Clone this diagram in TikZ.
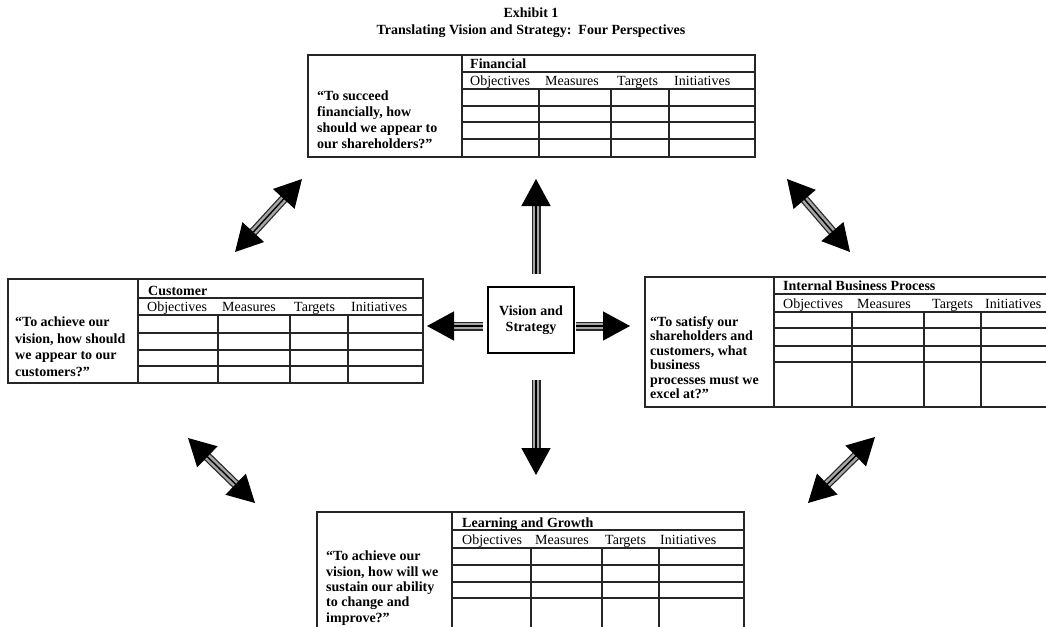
\documentclass[tikz,border=0pt]{standalone}
\usepackage{fontspec}
\setmainfont{Liberation Serif}
\usetikzlibrary{arrows.meta}
\tikzset{
  tbl/.style={line width=1.3pt, draw=black!85},
  lbl/.style={inner sep=0pt, font=\fontsize{14}{16}\selectfont},
  bld/.style={inner sep=0pt, font=\fontsize{14}{16}\selectfont\bfseries},
  quote/.style={inner sep=0pt, anchor=north west, align=left, font=\fontsize{14}{#1}\selectfont\bfseries},
  shaft/.style={preaction={draw,-,line width=9pt,black!85,#1},
                preaction={draw,-,line width=6.5pt,black!35,#1},
                line width=1.4pt, black},
  onearrow/.style={shaft={shorten >=22pt}, -{Triangle[length=27pt,width=29pt]}},
  twoarrow/.style={shaft={shorten >=22pt, shorten <=22pt},
                   {Triangle[length=27pt,width=29pt]}-{Triangle[length=27pt,width=29pt]}},
}
\begin{document}
\begin{tikzpicture}[x=1pt,y=-1pt]
\clip (0,0) rectangle (1046,626);
\fill[white] (0,0) rectangle (1046,626);

% title
\node[bld, anchor=base] (t1) at (531,18) {Exhibit 1};
\node[bld, anchor=base] (t2) at (531,35) {Translating Vision and Strategy:\ \ Four Perspectives};

% ---------- Financial ----------
\draw[tbl] (308,55) rectangle (755,157);
\draw[tbl] (462,55) -- (462,157);
\foreach \y in {72,89,106,122,139} \draw[tbl] (462,\y) -- (755,\y);
\foreach \x in {539,611,669} \draw[tbl] (\x,89) -- (\x,157);
\node[bld, anchor=base west] (finT) at (470,68) {Financial};
\node[lbl, anchor=base west] (finO) at (470,85) {Objectives};
\node[lbl, anchor=base west] (finM) at (545,85) {Measures};
\node[lbl, anchor=base west] (finTg) at (617,85) {Targets};
\node[lbl, anchor=base west] (finI) at (674,85) {Initiatives};
\node[quote=16] (finQ) at (317,91) {“To succeed\\financially, how\\should we appear to\\our shareholders?”};

% ---------- Customer ----------
\draw[tbl] (8,279) rectangle (423,383);
\draw[tbl] (138,279) -- (138,383);
\foreach \y in {298,315,333,350,366} \draw[tbl] (138,\y) -- (423,\y);
\foreach \x in {218,290,348} \draw[tbl] (\x,315) -- (\x,383);
\node[bld, anchor=base west] (cusT) at (148,295) {Customer};
\node[lbl, anchor=base west] (cusO) at (147,311) {Objectives};
\node[lbl, anchor=base west] (cusM) at (222,311) {Measures};
\node[lbl, anchor=base west] (cusTg) at (294,311) {Targets};
\node[lbl, anchor=base west] (cusI) at (351,311) {Initiatives};
\node[quote=16.5] (cusQ) at (15,317) {“To achieve our\\vision, how should\\we appear to our\\customers?”};

% ---------- Internal Business Process ----------
\draw[tbl] (645,277) rectangle (1052,407);
\draw[tbl] (774,277) -- (774,407);
\foreach \y in {294,312,328,346,362} \draw[tbl] (774,\y) -- (1052,\y);
\foreach \x in {852,924,981} \draw[tbl] (\x,312) -- (\x,407);
\node[bld, anchor=base west] (ibpT) at (783,290) {Internal Business Process};
\node[lbl, anchor=base west] (ibpO) at (783,308) {Objectives};
\node[lbl, anchor=base west] (ibpM) at (857,308) {Measures};
\node[lbl, anchor=base west] (ibpTg) at (932,308) {Targets};
\node[lbl, anchor=base west] (ibpI) at (985,308) {Initiatives};
\node[quote=14.5] (ibpQ) at (650,316) {“To satisfy our\\shareholders and\\customers, what\\business\\processes must we\\excel at?”};

% ---------- Learning and Growth ----------
\draw[tbl] (317,512) rectangle (744,640);
\draw[tbl] (452,512) -- (452,640);
\foreach \y in {530,548,565,582,598} \draw[tbl] (452,\y) -- (744,\y);
\foreach \x in {531,602,659} \draw[tbl] (\x,548) -- (\x,640);
\node[bld, anchor=base west] (lgT) at (462,527) {Learning and Growth};
\node[lbl, anchor=base west] (lgO) at (462,544) {Objectives};
\node[lbl, anchor=base west] (lgM) at (535,544) {Measures};
\node[lbl, anchor=base west] (lgTg) at (605,544) {Targets};
\node[lbl, anchor=base west] (lgI) at (660,544) {Initiatives};
\node[quote=15.3] (lgQ) at (326,551) {“To achieve our\\vision, how will we\\sustain our ability\\to change and\\improve?”};

% ---------- Vision and Strategy ----------
\node[draw, line width=1.2pt, minimum width=86pt, minimum height=66pt, align=center,
      font=\fontsize{14}{16}\selectfont\bfseries] (vs) at (531,320) {Vision and\\Strategy};

% arrow end points
\coordinate (upS) at (536,274);   \coordinate (upE) at (536,179);
\coordinate (dnS) at (536,380);   \coordinate (dnE) at (536,475);
\coordinate (lfS) at (483,326);   \coordinate (lfE) at (427,326);
\coordinate (rtS) at (576,326);   \coordinate (rtE) at (630,326);
\coordinate (tlA) at (302,179);   \coordinate (tlB) at (235,252);
\coordinate (trA) at (787,179);   \coordinate (trB) at (850,252);
\coordinate (blA) at (188,438);   \coordinate (blB) at (255,503);
\coordinate (brA) at (875,437);   \coordinate (brB) at (808,503);

\draw[onearrow] (upS) -- (upE);
\draw[onearrow] (dnS) -- (dnE);
\draw[onearrow] (lfS) -- (lfE);
\draw[onearrow] (rtS) -- (rtE);
\draw[twoarrow] (tlA) -- (tlB);
\draw[twoarrow] (trA) -- (trB);
\draw[twoarrow] (blA) -- (blB);
\draw[twoarrow] (brA) -- (brB);
\end{tikzpicture}
\end{document}
